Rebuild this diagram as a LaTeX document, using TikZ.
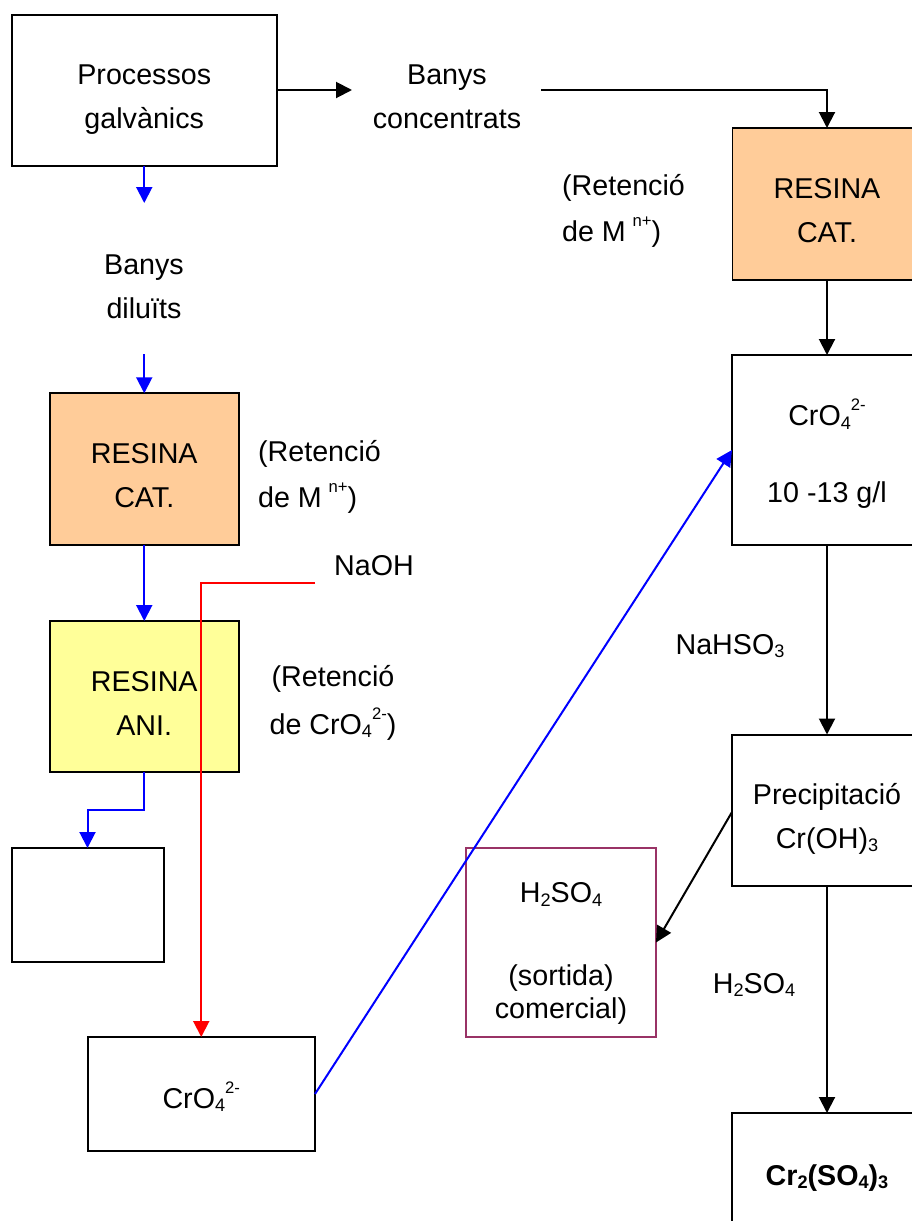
\documentclass[tikz,border=0pt]{standalone}
\usepackage{fontspec}
\setmainfont{Liberation Sans}
\usetikzlibrary{arrows.meta}
\newlength\pxu \setlength\pxu{0.75pt}
\newcommand\rg{\\[8.25pt]}
\newcommand\tl[3][c]{\raisebox{#2\pxu}[0pt][0pt]{\fontsize{21.5pt}{24.75pt}\selectfont\begin{tabular}[b]{@{}#1@{}}#3\end{tabular}}}
\newcommand\sbs[1]{\raisebox{-2.8pt}{\fontsize{13.6pt}{13.6pt}\selectfont #1}}
\newcommand\sps[1]{\raisebox{11.2pt}{\fontsize{12.5pt}{12.5pt}\selectfont #1}}
\definecolor{orangefill}{HTML}{FFCC99}
\definecolor{yellowfill}{HTML}{FFFF99}
\definecolor{plum}{HTML}{993366}
\definecolor{bluearrow}{HTML}{0000FF}
\definecolor{redarrow}{HTML}{FF0000}
\tikzset{
  x=0.75pt,y=-0.75pt,
  sized/.style 2 args={minimum width=#1*0.75pt,minimum height=#2*0.75pt},
  bx/.style={draw=black,line width=1.5pt,inner sep=0pt,outer sep=0pt,rectangle,fill=white},
  txt/.style={inner sep=0pt,outer sep=0pt},
  conn/.style={line width=1.5pt,-{Triangle[length=12pt,width=12pt]}},
  bk/.style={conn,draw=black},
  bl/.style={conn,draw=bluearrow},
  rd/.style={conn,draw=redarrow},
}
\begin{document}
\begin{tikzpicture}
\useasboundingbox (0,0) rectangle (912,1221);
\clip (0,0) rectangle (912,1221);
% boxes
\node[bx,sized={265.5}{151.5}] (proc) at (144.25,90.25) {\tl{-38}{Processos\rg galvànics}};
\node[bx,fill=orangefill,sized={189.5}{152}] (res1) at (144.25,469.25) {\tl{-38}{RESINA\rg CAT.}};
\node[bx,fill=yellowfill,sized={189.5}{151}] (ani) at (144.25,696.5) {\tl{-38.5}{RESINA\rg ANI.}};
\node[bx,sized={152}{114}] (waste) at (87.5,905) {};
\node[bx,sized={227.5}{114}] (cr2) at (201.25,1094) {\tl{-14}{CrO\sbs{4}\sps{2-}}};
\node[bx,draw=plum,sized={190}{189}] (acid) at (561,942.5) {\tl{-75.5}{H\sbs{2}SO\sbs{4}\\[49.5\pxu](sortida)\\comercial)}};
\node[draw=none,fill=orangefill,inner sep=0pt,outer sep=0pt,sized={190}{152}] (res2) at (827,204) {\tl{-38}{RESINA\rg CAT.}};
\node[bx,sized={190}{190}] (cr1) at (827,450) {\tl{-52}{CrO\sbs{4}\sps{2-}\\[43.5\pxu]10 -13 g/l}};
\node[bx,sized={190}{151.5}] (prec) at (827,810.25) {\tl{-38}{Precipitació\rg Cr(OH)\sbs{3}}};
\node[bx,sized={190}{152}] (out) at (827,1189) {\tl{4}{\bfseries Cr\sbs{2}(SO\sbs{4})\sbs{3}}};
\draw[line width=1.5pt] (res2.north west) -- (res2.north east);
\draw[line width=1.5pt] (res2.south west) -- (res2.south east);
\draw[line width=0.4pt] (res2.north west) -- (res2.south west);
% free text
\node[txt] (bconc) at (447,128.5) {\tl{0}{Banys\rg concentrats}};
\node[txt] (bdil) at (144,318) {\tl{0}{Banys\rg diluïts}};
\node[txt] (ret1) at (319.5,507) {\tl[l]{0}{(Retenció\rg de M \sps{\kern-1pt n+})}};
\node[txt] (ret2) at (623.5,241) {\tl[l]{0}{(Retenció\rg de M \sps{\kern-1pt n+})}};
\node[txt] (ret3) at (333,734) {\tl{0}{(Retenció\rg de CrO\sbs{4}\sps{2-})}};
\node[txt] (naoh) at (374,575) {\tl{0}{NaOH}};
\node[txt] (nahso) at (730,654) {\tl{0}{NaHSO\sbs{3}}};
\node[txt] (hso) at (754,993) {\tl{0}{H\sbs{2}SO\sbs{4}}};
% free ends
\coordinate (a1) at (352,90);
\coordinate (a2) at (144.25,203);
\coordinate (a3) at (144.25,354);
\coordinate (a4) at (541,90);
\coordinate (a5) at (315,583);
% connectors
\draw[bk] (proc.east |- a1) -- (a1);
\draw[bl] (proc.south) -- (a2);
\draw[bl] (a3) -- (res1.north);
\draw[bl] (res1.south) -- (ani.north);
\draw[bl] (ani.south) -- (144.25,810) -- (87.5,810) -- (waste.north);
\draw[rd] (a5) -- (201.25,583) -- (cr2.north);
\draw[bl] (cr2.east) -- (cr1.west);
\draw[bk] (a4) -- (827,90) -- (res2.north);
\draw[bk] (res2.south) -- (cr1.north);
\draw[bk] (cr1.south) -- (prec.north);
\draw[bk] (prec.south) -- (out.north);
\draw[bk] (732,812) -- (acid.east);
\end{tikzpicture}
\end{document}
